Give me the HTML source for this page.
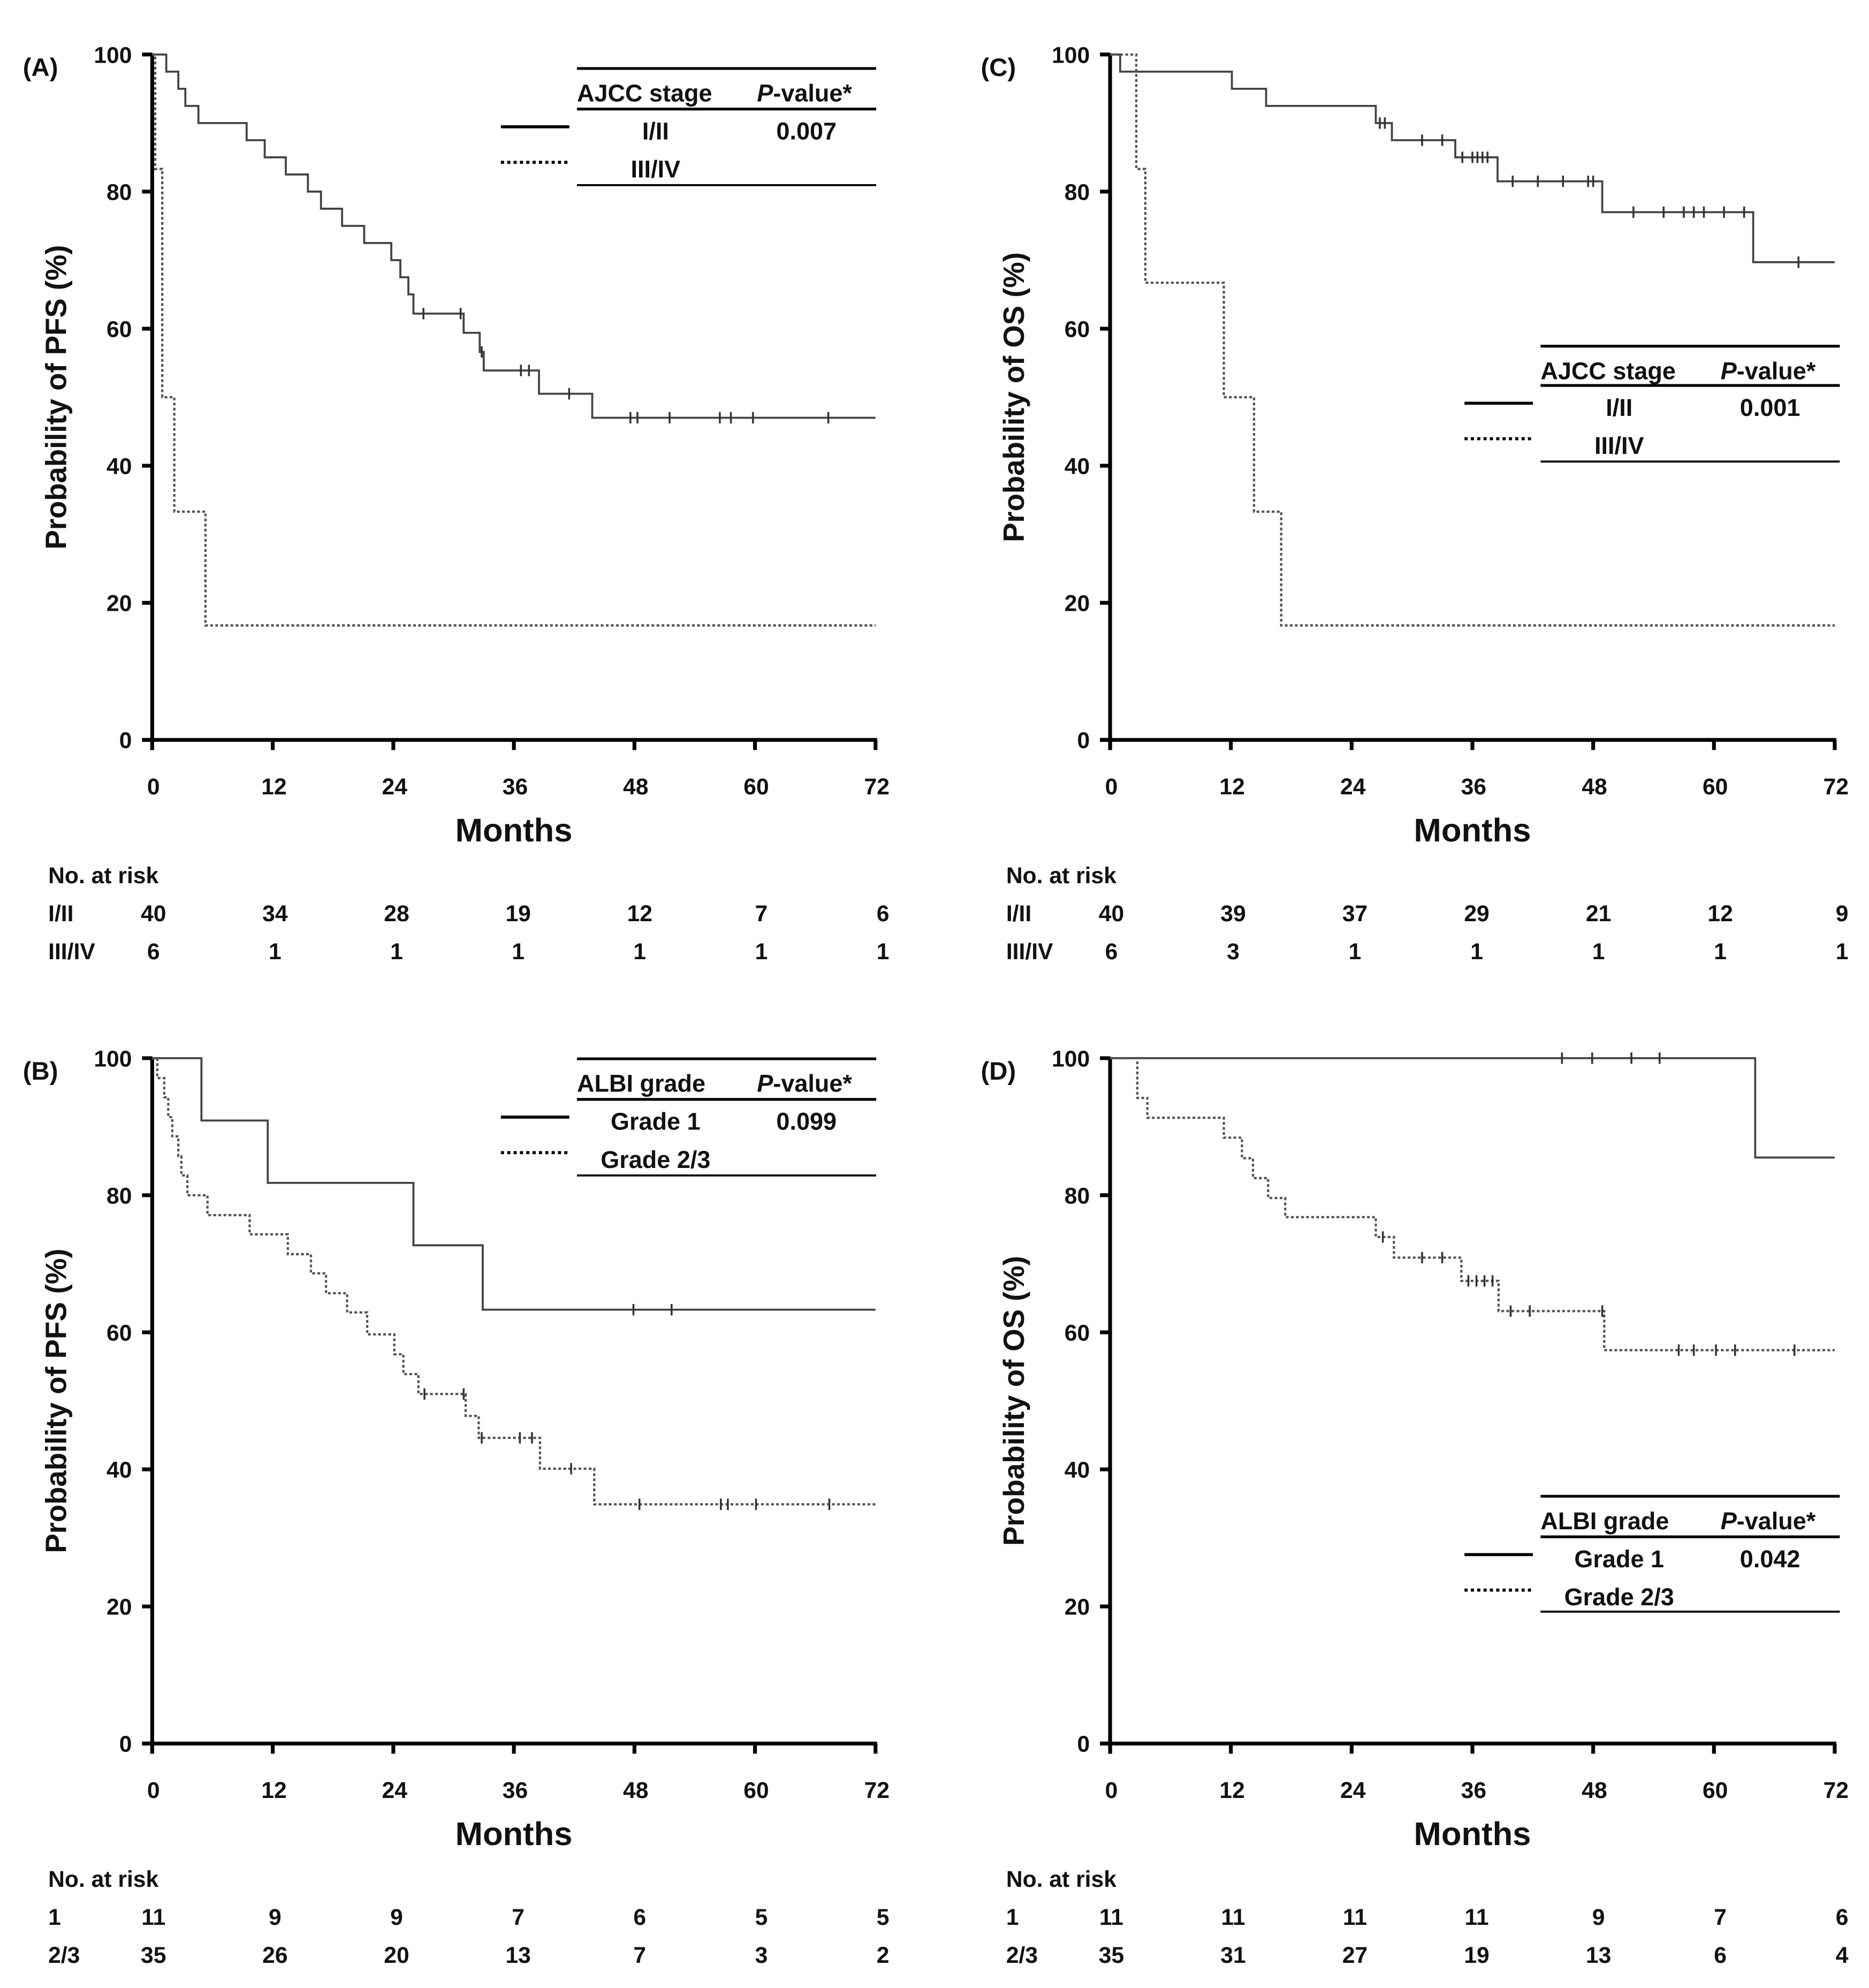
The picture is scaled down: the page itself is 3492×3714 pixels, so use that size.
<!DOCTYPE html>
<html><head><meta charset="utf-8"><style>
html,body{margin:0;padding:0;background:#fff;}
svg{display:block;}
text{font-family:"Liberation Sans",Arial,sans-serif;font-weight:bold;fill:#111;}
</style></head><body>
<svg id="fig" xmlns="http://www.w3.org/2000/svg" width="3492" height="3714" viewBox="0 0 1474 1567.8">
<rect width="1474" height="1567.8" fill="#fff"/>
</svg>
<script>
// ---- Panel A data (PFS by AJCC stage) ----
const aStage12Times = [1.4,2.6,3.3,4.6,9.4,11.2,13.3,15.5,16.8,18.9,21.1,23.8,24.7,25.5,26.0,31.0,32.6,33.0,38.5,43.8];
const aStage12Surv  = [97.5,95,92.5,90,87.5,85,82.5,80,77.5,75,72.5,70,67.5,65,62.2,59.4,56.6,53.9,50.5,47];
const aStage12Cens  = [27,30.7,32.8,36.7,37.5,41.5,47.6,48.3,51.5,56.5,57.6,59.8,67.3];
const aStage34Times = [0.3,1.0,2.2,5.3];
const aStage34Surv  = [83.3,50,33.3,16.7];
const aStage34Cens  = [];
// ---- Panel C data (OS by AJCC stage) ----
const cStage12Times = [1.0,12.1,15.5,26.4,28.0,34.3,38.5,48.9,63.9];
const cStage12Surv  = [97.5,95,92.5,90,87.5,85,81.5,77,69.7];
const cStage12Cens  = [26.8,27.3,31,33,35,36,36.5,37,37.5,40,42.5,45,47.5,48,52,55,57,58,59,61,63,68.4];
const cStage34Times = [2.6,3.5,11.3,14.3,17.0];
const cStage34Surv  = [83.3,66.7,50,33.3,16.7];
const cStage34Cens  = [];
// ---- Panel B data (PFS by ALBI grade) ----
const bGrade1Times = [4.9,11.5,26.0,32.9];
const bGrade1Surv  = [90.9,81.8,72.7,63.3];
const bGrade1Cens  = [47.9,51.7];
const bGrade23Times = [0.5,1.2,1.6,2.0,2.6,2.9,3.5,5.5,9.7,13.5,15.8,17.3,19.4,21.4,24.1,25.0,26.5,31.2,32.5,38.6,44.0];
const bGrade23Surv  = [97.1,94.3,91.4,88.6,85.7,82.9,80,77.1,74.3,71.4,68.6,65.7,62.9,59.7,56.8,53.9,51,47.8,44.6,40.1,34.9];
const bGrade23Cens  = [27.1,31,32.8,36.6,37.8,41.7,48.5,56.6,57.3,60.1,67.4];
// ---- Panel D data (OS by ALBI grade) ----
const dGrade1Times = [64.1];
const dGrade1Surv  = [85.5];
const dGrade1Cens  = [44.9,47.9,51.8,54.6];
const dGrade23Times = [2.7,3.7,11.3,13.1,14.2,15.7,17.4,26.4,28.2,34.9,38.6,49.1];
const dGrade23Surv  = [94.2,91.3,88.4,85.4,82.5,79.6,76.8,73.9,70.9,67.5,63.1,57.4];
const dGrade23Cens  = [27.1,31,33,35.6,36.4,37.2,38,39.8,41.7,48.9,56.5,58,60.2,62.1,68];
// ---- axes / tick labels ----
const xTicks = [0,12,24,36,48,60,72];
const yTicks = [0,20,40,60,80,100];
const riskA1 = ["40","34","28","19","12","7","6"];
const riskA2 = ["6","1","1","1","1","1","1"];
const riskC1 = ["40","39","37","29","21","12","9"];
const riskC2 = ["6","3","1","1","1","1","1"];
const riskB1 = ["11","9","9","7","6","5","5"];
const riskB2 = ["35","26","20","13","7","3","2"];
const riskD1 = ["11","11","11","11","9","7","6"];
const riskD2 = ["35","31","27","19","13","6","4"];

const NS="http://www.w3.org/2000/svg";
const svg=document.getElementById('fig');
function el(tag,attrs,parent,txt){const e=document.createElementNS(NS,tag);for(const k in attrs)e.setAttribute(k,attrs[k]);if(txt!==undefined)e.textContent=txt;(parent||svg).appendChild(e);return e;}

function panel(o){
  const g=el('g',{});
  
  
  const X=m=>o.x0+(o.x1-o.x0)*m/72;
  const Y=p=>o.yb+(o.yt-o.yb)*p/100;
  const pl=el('text',{x:o.x0-102,y:o.yt+17,'font-size':20},g,'('+o.id+')');
  
  
  const ya=el('line',{x1:X(0),y1:Y(100)-1,x2:X(0),y2:Y(0)+8,stroke:'#000','stroke-width':3},g);
  
  
  const xa=el('line',{x1:X(0)-8,y1:Y(0),x2:X(72)+1.2,y2:Y(0),stroke:'#000','stroke-width':3},g);
  
  
  yTicks.forEach(v=>{
    el('line',{x1:X(0)-8,y1:Y(v),x2:X(0),y2:Y(v),stroke:'#000','stroke-width':3},g);
    const t=el('text',{x:X(0)-16,y:Y(v)+6.5,'font-size':18,'text-anchor':'end'},g,String(v));
    
    
  });
  xTicks.forEach(v=>{
    el('line',{x1:X(v),y1:Y(0),x2:X(v),y2:Y(0)+8,stroke:'#000','stroke-width':3},g);
    const t=el('text',{x:X(v)+1,y:Y(0)+43,'font-size':18,'text-anchor':'middle'},g,String(v));
    
    
  });
  const xt=el('text',{x:(X(0)+X(72))/2,y:Y(0)+80,'font-size':26,'text-anchor':'middle'},g,'Months');
  
  
  const yc=(Y(0)+Y(100))/2;
  const yt=el('text',{x:o.x0-68,y:yc,'font-size':23,'text-anchor':'middle',transform:`rotate(-90 ${o.x0-68} ${yc})`},g,o.ytitle);
  
  
  o.series.forEach(s=>{
    let d=`M${X(0)},${Y(100)}`;
    s.t.forEach((t,i)=>{d+=` H${X(t)} V${Y(s.s[i])}`;});
    d+=` H${X(72)}`;
    const p=el('path',{d:d,fill:'none',stroke:s.dot?'#555':'#444','stroke-width':s.dot?1.8:1.6,'stroke-dasharray':s.dot?'2.2,1.8':'none'},g);
    
    
    s.c.forEach(c=>{
      let lv=100;s.t.forEach((t,i)=>{if(t<=c)lv=s.s[i];});
      const m=el('line',{x1:X(c),y1:Y(lv)-4.5,x2:X(c),y2:Y(lv)+4.5,stroke:'#333','stroke-width':1.5},g);
      
      
    });
  });
  const L=o.leg;
  const lg=el('g',{},g);
  
  
  [L.y1,L.y2,L.y3].forEach((yy,i)=>el('line',{x1:L.x,y1:yy,x2:L.x+236,y2:yy,stroke:'#000','stroke-width':i==2?1.6:2.2},lg));
  el('text',{x:L.x,y:L.y1+26,'font-size':19},lg,L.head);
  const pv=el('text',{x:L.x+142,y:L.y1+26,'font-size':19},lg);
  el('tspan',{'font-style':'italic'},pv,'P');
  el('tspan',{},pv,'-value*');
  el('line',{x1:L.x-60,y1:L.y2+14,x2:L.x-6,y2:L.y2+14,stroke:'#000','stroke-width':2.4},lg);
  el('line',{x1:L.x-60,y1:L.y2+42,x2:L.x-6,y2:L.y2+42,stroke:'#000','stroke-width':2.4,'stroke-dasharray':'2.5,2.5'},lg);
  el('text',{x:L.x+L.c1,y:L.y2+24,'font-size':19,'text-anchor':'middle'},lg,L.r1);
  el('text',{x:L.x+181,y:L.y2+24,'font-size':19,'text-anchor':'middle'},lg,L.p);
  el('text',{x:L.x+L.c1,y:L.y2+54,'font-size':19,'text-anchor':'middle'},lg,L.r2);
  const rt=el('g',{},g);
  
  
  const ry=Y(0)+113;
  el('text',{x:o.x0-82,y:ry,'font-size':18},rt,'No. at risk');
  el('text',{x:o.x0-82,y:ry+30,'font-size':18},rt,o.rl[0]);
  el('text',{x:o.x0-82,y:ry+60,'font-size':18},rt,o.rl[1]);
  xTicks.forEach((v,i)=>{
    const xx=X(v)+1+i*0.8;
    el('text',{x:xx,y:ry+30,'font-size':18,'text-anchor':'middle'},rt,o.r1[i]);
    el('text',{x:xx,y:ry+60,'font-size':18,'text-anchor':'middle'},rt,o.r2[i]);
  });
}
panel({id:'A',x0:120,x1:690.5,yt:43,yb:583.5,ytitle:'Probability of PFS (%)',
  series:[{name:'curve-stage-i-ii',t:aStage12Times,s:aStage12Surv,c:aStage12Cens},{name:'curve-stage-iii-iv',dot:1,t:aStage34Times,s:aStage34Surv,c:aStage34Cens}],
  leg:{x:455,y1:54,y2:86,y3:146,head:'AJCC  stage',r1:'I/II',r2:'III/IV',c1:62,p:'0.007'},
  rl:['I/II','III/IV'],r1:riskA1,r2:riskA2});
panel({id:'C',x0:875.5,x1:1447,yt:43,yb:583.5,ytitle:'Probability of OS (%)',
  series:[{name:'curve-stage-i-ii',t:cStage12Times,s:cStage12Surv,c:cStage12Cens},{name:'curve-stage-iii-iv',dot:1,t:cStage34Times,s:cStage34Surv,c:cStage34Cens}],
  leg:{x:1215,y1:273,y2:304,y3:364,head:'AJCC  stage',r1:'I/II',r2:'III/IV',c1:62,p:'0.001'},
  rl:['I/II','III/IV'],r1:riskC1,r2:riskC2});
panel({id:'B',x0:120,x1:690.5,yt:834.5,yb:1375,ytitle:'Probability of PFS (%)',
  series:[{name:'curve-grade-1',t:bGrade1Times,s:bGrade1Surv,c:bGrade1Cens},{name:'curve-grade-2-3',dot:1,t:bGrade23Times,s:bGrade23Surv,c:bGrade23Cens}],
  leg:{x:455,y1:835,y2:867,y3:927,head:'ALBI grade',r1:'Grade 1',r2:'Grade 2/3',c1:62,p:'0.099'},
  rl:['1','2/3'],r1:riskB1,r2:riskB2});
panel({id:'D',x0:875.5,x1:1447,yt:834.5,yb:1375,ytitle:'Probability of OS (%)',
  series:[{name:'curve-grade-1',t:dGrade1Times,s:dGrade1Surv,c:dGrade1Cens},{name:'curve-grade-2-3',dot:1,t:dGrade23Times,s:dGrade23Surv,c:dGrade23Cens}],
  leg:{x:1215,y1:1180,y2:1212,y3:1271,head:'ALBI grade',r1:'Grade 1',r2:'Grade 2/3',c1:62,p:'0.042'},
  rl:['1','2/3'],r1:riskD1,r2:riskD2});
</script>
</body></html>
